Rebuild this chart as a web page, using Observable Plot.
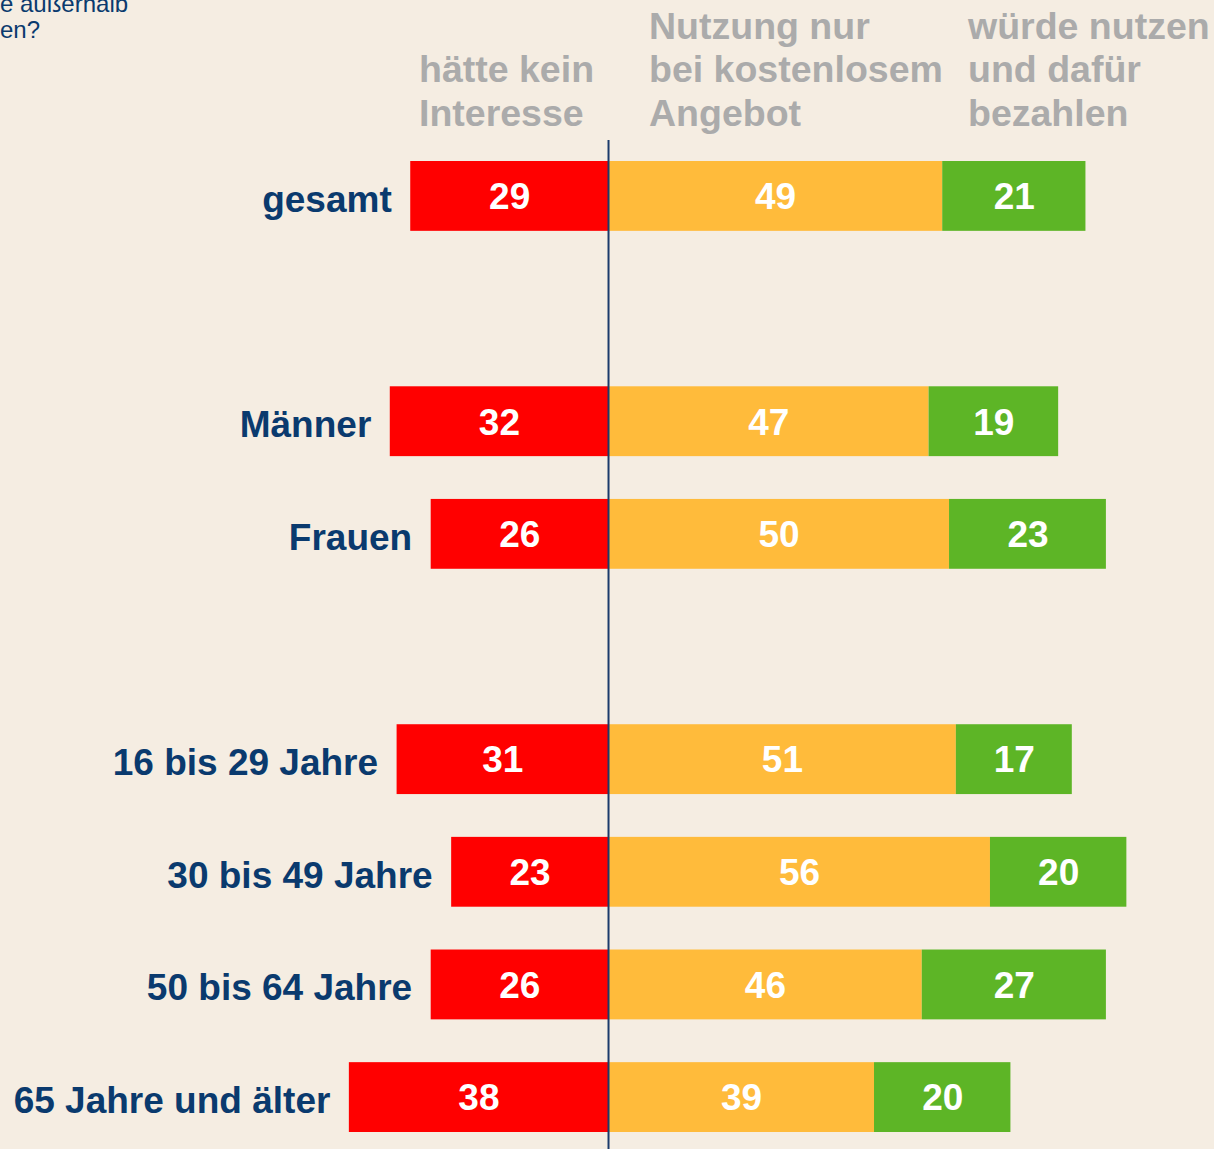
<!DOCTYPE html>
<html>
<head>
<meta charset="utf-8">
<script src="https://cdn.jsdelivr.net/npm/d3@7"></script>
<script src="https://cdn.jsdelivr.net/npm/@observablehq/plot@0.6"></script>
<style>
  html, body { margin: 0; padding: 0; background: #F5EDE2; overflow: hidden; }
  #wrap { position: relative; width: 1214px; height: 1149px; overflow: hidden; }
  #chart { position: absolute; left: 0; top: 0; }
  .hdr { position: absolute; font-family: "Liberation Sans", Arial, Helvetica, sans-serif; font-weight: bold;
         font-size: 37.5px; line-height: 43.5px; color: #ABABAB; white-space: nowrap; }
  #question { position: absolute; left: 0; top: -9px; font-family: "Liberation Sans", Arial, sans-serif;
              font-size: 24px; line-height: 26px; color: #0A3A6E; white-space: nowrap; }
</style>
</head>
<body>
<div id="wrap">
  <div id="chart"></div>
  <div id="question">e außerhalb<br>en?</div>
  <div id="headers"></div>
</div>
<script>
// ---- data ----
const categories = ["gesamt", "Männer", "Frauen", "16 bis 29 Jahre", "30 bis 49 Jahre", "50 bis 64 Jahre", "65 Jahre und älter"];
const keinInteresse = [29, 32, 26, 31, 23, 26, 38];
const nurKostenlos = [49, 47, 50, 51, 56, 46, 39];
const bezahlen = [21, 19, 23, 17, 20, 27, 20];
const seriesNames = ["hätte kein Interesse", "Nutzung nur bei kostenlosem Angebot", "würde nutzen und dafür bezahlen"];
const headerLines = [["hätte kein", "Interesse"], ["Nutzung nur", "bei kostenlosem", "Angebot"], ["würde nutzen", "und dafür", "bezahlen"]];
const spacerAfter = {"gesamt": " ", "Frauen": "  "};

// ---- derived ----
const domainY = [];
categories.forEach(c => { domainY.push(c); if (spacerAfter[c]) domainY.push(spacerAfter[c]); });

const segs = [];
categories.forEach((c, i) => {
  const a = keinInteresse[i], b = nurKostenlos[i], g = bezahlen[i];
  segs.push({cat: c, series: seriesNames[0], x1: -a, x2: 0, v: a});
  segs.push({cat: c, series: seriesNames[1], x1: 0, x2: b, v: b});
  segs.push({cat: c, series: seriesNames[2], x1: b, x2: b + g, v: g});
});
const labels = categories.map((c, i) => ({cat: c, x: -keinInteresse[i]}));

const FONT = '"Liberation Sans", Arial, Helvetica, sans-serif';
const BLUE = "#0A3A6E";

const chart = Plot.plot({
  width: 1214,
  height: 1149,
  marginLeft: 0, marginRight: 0, marginTop: 161, marginBottom: 17,
  style: {background: "transparent", fontFamily: FONT},
  x: {domain: [-89.15, 88.85], axis: null},
  y: {domain: domainY, axis: null, paddingInner: 0.38, paddingOuter: 0, align: 0.5, round: false},
  color: {domain: seriesNames, range: ["#FF0000", "#FFBB3B", "#5DB526"]},
  marks: [
    Plot.barX(segs, {y: "cat", x1: "x1", x2: "x2", fill: "series"}),
    Plot.text(segs, {y: "cat", x: d => (d.x1 + d.x2) / 2, text: d => String(d.v),
      fill: "white", fontSize: 37, fontWeight: "bold", dy: 1}),
    Plot.text(labels, {y: "cat", x: "x", text: "cat", textAnchor: "end", dx: -19, dy: 3.5,
      fill: BLUE, fontSize: 37, fontWeight: "bold"}),
    Plot.ruleX([0], {stroke: "#1B3A6B", strokeWidth: 2, insetTop: -21, insetBottom: -17})
  ]
});
document.getElementById("chart").appendChild(chart);

// column headers (legend) above the chart
const hdrLeft = [419, 649, 968];
const hdrBox = document.getElementById("headers");
headerLines.forEach((lines, i) => {
  const d = document.createElement("div");
  d.className = "hdr";
  d.style.left = hdrLeft[i] + "px";
  d.style.top = (4.5 + (3 - lines.length) * 43.5) + "px";
  d.innerHTML = lines.join("<br>");
  hdrBox.appendChild(d);
});
</script>
</body>
</html>
